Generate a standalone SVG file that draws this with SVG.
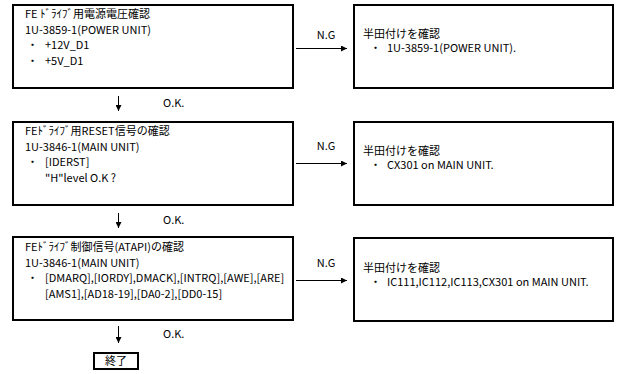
<svg xmlns="http://www.w3.org/2000/svg" width="621" height="374" viewBox="0 0 621 374">
<style>
.box{fill:#fff;stroke:#000;stroke-width:2}
.t{font-family:"Noto Sans CJK JP","Noto Sans",sans-serif;font-size:11px;fill:#000}
.c{stroke:#000;stroke-width:1;fill:none}
</style>
<defs>
<marker id="ah" markerWidth="6" markerHeight="6" refX="6" refY="3" orient="auto" markerUnits="userSpaceOnUse">
<path d="M0,0 L6,3 L0,6 Z" fill="#000"/>
</marker>
</defs>
<rect width="621" height="374" fill="#fff"/>
<g id="n1">
<rect class="box" x="13" y="5" width="280" height="83"/>
<text class="t" x="25" y="18">FE ﾄﾞﾗｲﾌﾞ用電源電圧確認</text>
<text class="t" x="25" y="33.5">1U-3859-1(POWER UNIT)</text>
<text class="t" y="49"><tspan x="27">・</tspan><tspan x="45">+12V_D1</tspan></text>
<text class="t" y="64.5"><tspan x="27">・</tspan><tspan x="45">+5V_D1</tspan></text>
</g>
<g id="n2">
<rect class="box" x="354" y="5" width="259" height="83"/>
<text class="t" x="363" y="37.5">半田付けを確認</text>
<text class="t" y="52"><tspan x="370">・</tspan><tspan x="387">1U-3859-1(POWER UNIT).</tspan></text>
</g>
<g id="n3">
<rect class="box" x="13" y="122" width="280" height="83"/>
<text class="t" x="25" y="135">FEﾄﾞﾗｲﾌﾞ用RESET信号の確認</text>
<text class="t" x="25" y="150.5">1U-3846-1(MAIN UNIT)</text>
<text class="t" y="166"><tspan x="27">・</tspan><tspan x="45">[IDERST]</tspan></text>
<text class="t" x="45" y="181.5">"H"level O.K ?</text>
</g>
<g id="n4">
<rect class="box" x="354" y="122" width="259" height="83"/>
<text class="t" x="363" y="154.5">半田付けを確認</text>
<text class="t" y="169"><tspan x="370">・</tspan><tspan x="387">CX301 on MAIN UNIT.</tspan></text>
</g>
<g id="n5">
<rect class="box" x="13" y="237" width="280" height="83"/>
<text class="t" x="25" y="251">FEﾄﾞﾗｲﾌﾞ制御信号(ATAPI)の確認</text>
<text class="t" x="25" y="266.5">1U-3846-1(MAIN UNIT)</text>
<text class="t" y="282"><tspan x="27">・</tspan><tspan x="45">[DMARQ],[IORDY],DMACK],[INTRQ],[AWE],[ARE]</tspan></text>
<text class="t" x="45" y="297.5">[AMS1],[AD18-19],[DA0-2],[DD0-15]</text>
</g>
<g id="n6">
<rect class="box" x="354" y="238" width="259" height="83"/>
<text class="t" x="363" y="271.5">半田付けを確認</text>
<text class="t" y="286"><tspan x="370">・</tspan><tspan x="387">IC111,IC112,IC113,CX301 on MAIN UNIT.</tspan></text>
</g>
<g id="n7">
<rect class="box" x="94" y="353" width="44" height="16"/>
<text class="t" x="116" y="365" text-anchor="middle">終了</text>
</g>
<g id="connectors">
<line class="c" x1="296" y1="48.5" x2="347" y2="48.5" marker-end="url(#ah)"/>
<text class="t" x="326" y="39" text-anchor="middle">N.G</text>
<line class="c" x1="296" y1="163.5" x2="347" y2="163.5" marker-end="url(#ah)"/>
<text class="t" x="326" y="150" text-anchor="middle">N.G</text>
<line class="c" x1="296" y1="280.5" x2="347" y2="280.5" marker-end="url(#ah)"/>
<text class="t" x="326" y="267" text-anchor="middle">N.G</text>
<line class="c" x1="118.5" y1="96" x2="118.5" y2="111" marker-end="url(#ah)"/>
<text class="t" x="163" y="107">O.K.</text>
<line class="c" x1="118.5" y1="213" x2="118.5" y2="228" marker-end="url(#ah)"/>
<text class="t" x="163" y="224">O.K.</text>
<line class="c" x1="118.5" y1="326" x2="118.5" y2="343" marker-end="url(#ah)"/>
<text class="t" x="163" y="338">O.K.</text>
</g>
</svg>
